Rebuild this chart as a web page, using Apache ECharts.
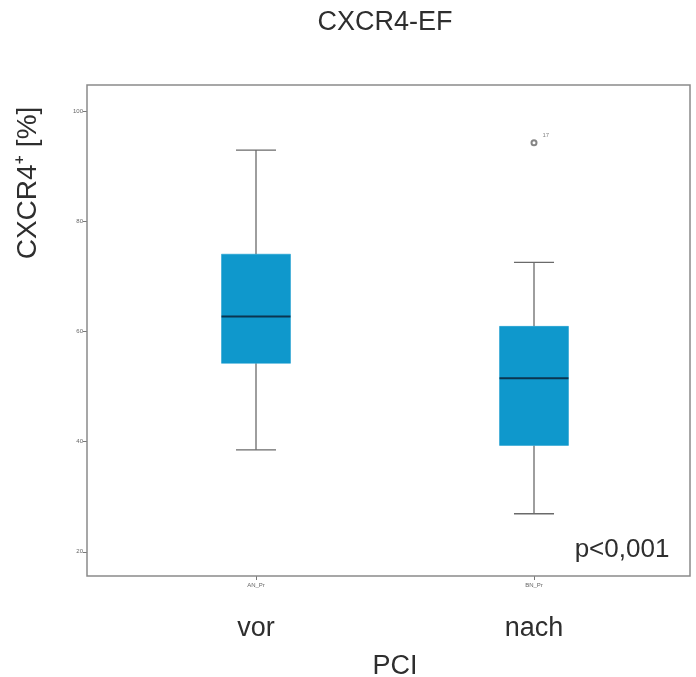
<!DOCTYPE html>
<html>
<head>
<meta charset="utf-8">
<script src="https://cdn.jsdelivr.net/npm/echarts@6/dist/echarts.min.js"></script>
<style>
  html, body { margin: 0; padding: 0; background: #fff; }
  #chart { width: 696px; height: 677px; }
</style>
</head>
<body>
<div id="chart"></div>
<script>
// Groups and the small variable labels printed under each box
const groupLabels = ['vor', 'nach'];
const tickLabels = ['AN_Pr', 'BN_Pr'];

// Box statistics (CXCR4+ in %)
const whiskerLow = [38.5, 26.9];
const quartile1 = [54.2, 39.3];
const medians = [62.7, 51.5];
const quartile3 = [74.0, 60.9];
const whiskerHigh = [92.9, 72.5];

// Outliers: [group index, value, case label]
const outliers = [[1, 94.2, '17']];

const yTicks = [20, 40, 60, 80, 100];

const fontFamily = 'Arial, "Liberation Sans", "Noto Sans", sans-serif';
const textColor = '#2e2e2e';
const boxColor = '#0f98cc';
const lineColor = '#6a6a6a';

const boxData = groupLabels.map((g, i) => [
    i, whiskerLow[i], quartile1[i], medians[i], quartile3[i], whiskerHigh[i]
]);

/**
 * Draws one box with whiskers, caps and median line
 */
function renderBox(params, api) {
    const x = api.value(0);
    const low = api.coord([x, api.value(1)]);
    const q1 = api.coord([x, api.value(2)]);
    const med = api.coord([x, api.value(3)]);
    const q3 = api.coord([x, api.value(4)]);
    const high = api.coord([x, api.value(5)]);
    const band = api.size([1, 0])[0];
    const boxW = band * 0.248;
    const capW = band * 0.144;
    const cx = low[0];
    const lineStyle = { stroke: lineColor, lineWidth: 1.3 };

    return {
        type: 'group',
        children: [
            { type: 'line', shape: { x1: cx, y1: low[1], x2: cx, y2: q1[1] }, style: lineStyle },
            { type: 'line', shape: { x1: cx, y1: q3[1], x2: cx, y2: high[1] }, style: lineStyle },
            { type: 'line', shape: { x1: cx - capW / 2, y1: low[1], x2: cx + capW / 2, y2: low[1] }, style: lineStyle },
            { type: 'line', shape: { x1: cx - capW / 2, y1: high[1], x2: cx + capW / 2, y2: high[1] }, style: lineStyle },
            {
                type: 'rect',
                shape: { x: cx - boxW / 2, y: q3[1], width: boxW, height: q1[1] - q3[1] },
                style: { fill: boxColor, stroke: boxColor, lineWidth: 0.5 }
            },
            {
                type: 'line',
                shape: { x1: cx - boxW / 2, y1: med[1], x2: cx + boxW / 2, y2: med[1] },
                style: { stroke: '#0b3550', lineWidth: 2 }
            }
        ]
    };
}

const chart = echarts.init(document.getElementById('chart'));

const option = {
    animation: false,
    textStyle: { fontFamily: fontFamily },
    grid: { left: 117, right: 23, top: 85, bottom: 101, containLabel: false, outerBoundsMode: 'none' },
    xAxis: [
        {
            type: 'category',
            data: tickLabels,
            axisLine: { show: false },
            axisTick: { show: true, alignWithLabel: true, length: 4, lineStyle: { color: '#777' } },
            axisLabel: { fontSize: 6, color: '#666', margin: 6 },
            splitLine: { show: false }
        },
        {
            type: 'category',
            position: 'bottom',
            data: groupLabels,
            axisLine: { show: false },
            axisTick: { show: false },
            axisLabel: { fontSize: 27, color: textColor, margin: 39 },
            name: 'PCI',
            nameLocation: 'middle',
            nameGap: 77,
            nameTextStyle: { fontSize: 27, color: textColor }
        }
    ],
    yAxis: {
        type: 'value',
        min: 15.6,
        max: 104.7,
        offset: 30,
        axisLine: { show: false },
        axisTick: { show: true, length: 4, customValues: yTicks, lineStyle: { color: '#777' } },
        axisLabel: { fontSize: 6, color: '#666', margin: 4, customValues: yTicks },
        splitLine: { show: false }
    },
    graphic: [
        {
            type: 'rect',
            shape: { x: 87, y: 85, width: 603, height: 491 },
            style: { fill: null, stroke: '#8a8a8a', lineWidth: 1.5 },
            z: 10
        },
        {
            type: 'text',
            x: 385,
            y: 23,
            style: {
                text: 'CXCR4-EF',
                fontSize: 27,
                fontFamily: fontFamily,
                fill: textColor,
                align: 'center',
                verticalAlign: 'middle'
            }
        },
        {
            type: 'text',
            x: 28,
            y: 183,
            rotation: Math.PI / 2,
            style: {
                text: 'CXCR4\u207A [%]',
                fontSize: 28,
                fontFamily: fontFamily,
                fill: textColor,
                align: 'center',
                verticalAlign: 'middle'
            }
        },
        {
            type: 'text',
            x: 622,
            y: 550,
            style: {
                text: 'p<0,001',
                fontSize: 26,
                fontFamily: fontFamily,
                fill: textColor,
                align: 'center',
                verticalAlign: 'middle'
            }
        }
    ],
    series: [
        {
            type: 'custom',
            xAxisIndex: 0,
            renderItem: renderBox,
            encode: { x: 0, y: [1, 2, 3, 4, 5] },
            data: boxData
        },
        {
            type: 'scatter',
            xAxisIndex: 0,
            symbol: 'emptyCircle',
            symbolSize: 5,
            itemStyle: { color: '#666', borderColor: '#666', borderWidth: 1 },
            label: {
                show: true,
                formatter: (p) => p.value[2],
                position: 'right',
                offset: [0, -8],
                fontSize: 6,
                color: '#666'
            },
            data: outliers
        }
    ]
};

chart.setOption(option);
</script>
</body>
</html>
